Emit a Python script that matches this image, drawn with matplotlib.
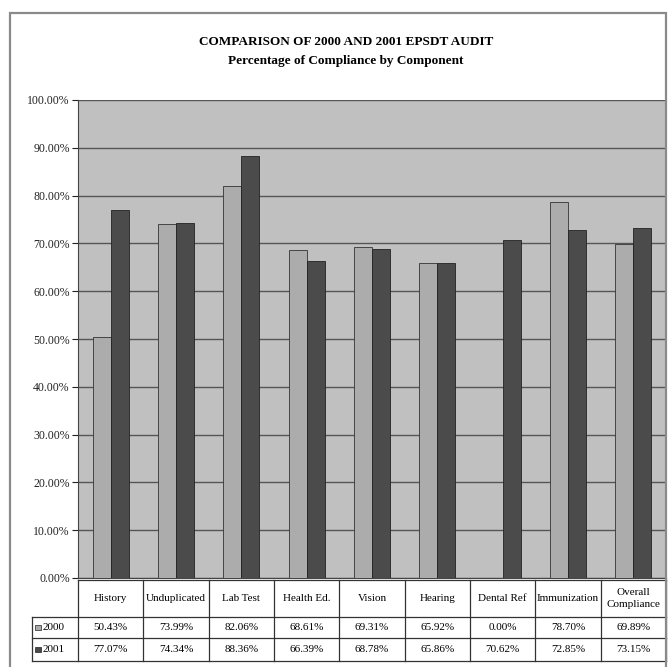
import matplotlib
matplotlib.use("Agg")
import matplotlib.pyplot as plt
from matplotlib.patches import Rectangle
import numpy as np

categories = ["History", "Unduplicated", "Lab Test", "Health Ed.", "Vision",
              "Hearing", "Dental Ref", "Immunization", "Overall\nCompliance"]
vals_2000 = [50.43, 73.99, 82.06, 68.61, 69.31, 65.92, 0.00, 78.70, 69.89]
vals_2001 = [77.07, 74.34, 88.36, 66.39, 68.78, 65.86, 70.62, 72.85, 73.15]
series_names = ["2000", "2001"]
yticks = [0, 10, 20, 30, 40, 50, 60, 70, 80, 90, 100]

W, H = 668, 667
plt.rcParams['font.family'] = ['Liberation Serif', 'DejaVu Serif']
fig = plt.figure(figsize=(W / 100, H / 100), dpi=100)
fig.patch.set_facecolor("white")

def fbox(x0, y0, x1, y1):
    # pixel box -> figure coords
    return [x0 / W, 1 - y1 / H, (x1 - x0) / W, (y1 - y0) / H]

c_light = "#acacac"
c_dark = "#4b4b4b"
c_bg = "#c0c0c0"

# outer frame
fig.patches.append(Rectangle((10 / W, -0.05), (656) / W, 1.05 - 13 / H,
                             transform=fig.transFigure, fill=False,
                             edgecolor="#8a8a8a", lw=1.6))

ax = fig.add_axes(fbox(78, 100, 666, 578))
ax.set_facecolor(c_bg)
x = np.arange(len(categories))
w = 0.275
ax.bar(x - w / 2, vals_2000, w, color=c_light, edgecolor="#333333", lw=0.6, zorder=3)
ax.bar(x + w / 2, vals_2001, w, color=c_dark, edgecolor="#222222", lw=0.6, zorder=3)
ax.set_xlim(-0.5, len(categories) - 0.5)
ax.set_ylim(0, 100)
ax.set_yticks(yticks)
ax.set_yticklabels(["%.2f%%" % t for t in yticks], fontsize=8.5)
ax.tick_params(axis="y", length=4, width=0.8, direction="out", pad=2, colors="#222222")
ax.set_xticks([])
ax.grid(axis="y", color="#555555", lw=1.0, zorder=1)
for s in ["top", "right"]:
    ax.spines[s].set_visible(False)
ax.spines["left"].set_color("#444444")
ax.spines["bottom"].set_color("#444444")

fig.text(346 / W, 1 - 42 / H, "COMPARISON OF 2000 AND 2001 EPSDT AUDIT",
         ha="center", va="center", fontsize=9.5, fontweight="bold")
fig.text(346 / W, 1 - 61 / H, "Percentage of Compliance by Component",
         ha="center", va="center", fontsize=9.5, fontweight="bold")

# data table under the plot
lab_w = 46 / 65.33
tab = fig.add_axes(fbox(32, 578, 666, 661))
tab.set_xlim(-0.5 - lab_w, len(categories) - 0.5)
tab.set_ylim(83, 0)
tab.axis("off")
lc = "#333333"
y_rows = [2, 39, 60, 83]
for yy in y_rows[1:]:
    tab.plot([-0.5 - lab_w, len(categories) - 0.5], [yy, yy], color=lc, lw=0.9, clip_on=False)
tab.plot([-0.5, len(categories) - 0.5], [y_rows[0], y_rows[0]], color=lc, lw=0.9, clip_on=False)
for i in range(len(categories) + 1):
    tab.plot([i - 0.5, i - 0.5], [y_rows[0], y_rows[3]], color=lc, lw=0.9, clip_on=False)
tab.plot([-0.5 - lab_w] * 2, [y_rows[1], y_rows[3]], color=lc, lw=0.9, clip_on=False)

for i, c in enumerate(categories):
    tab.text(i, (y_rows[0] + y_rows[1]) / 2, c, ha="center", va="center", fontsize=8,
             linespacing=1.3)
    tab.text(i, (y_rows[1] + y_rows[2]) / 2, "%.2f%%" % vals_2000[i], ha="center", va="center", fontsize=8)
    tab.text(i, (y_rows[2] + y_rows[3]) / 2, "%.2f%%" % vals_2001[i], ha="center", va="center", fontsize=8)

for r, (name, col) in enumerate(zip(series_names, [c_light, c_dark])):
    yc = (y_rows[r + 1] + y_rows[r + 2]) / 2
    tab.add_patch(Rectangle((-0.5 - lab_w + 0.05, yc - 2.5), 0.09, 5,
                            facecolor=col, edgecolor="#222222", lw=0.5))
    tab.text(-0.5 - lab_w + 0.16, yc, name, ha="left", va="center", fontsize=8)

fig.savefig("out.png", dpi=100, facecolor="white")
